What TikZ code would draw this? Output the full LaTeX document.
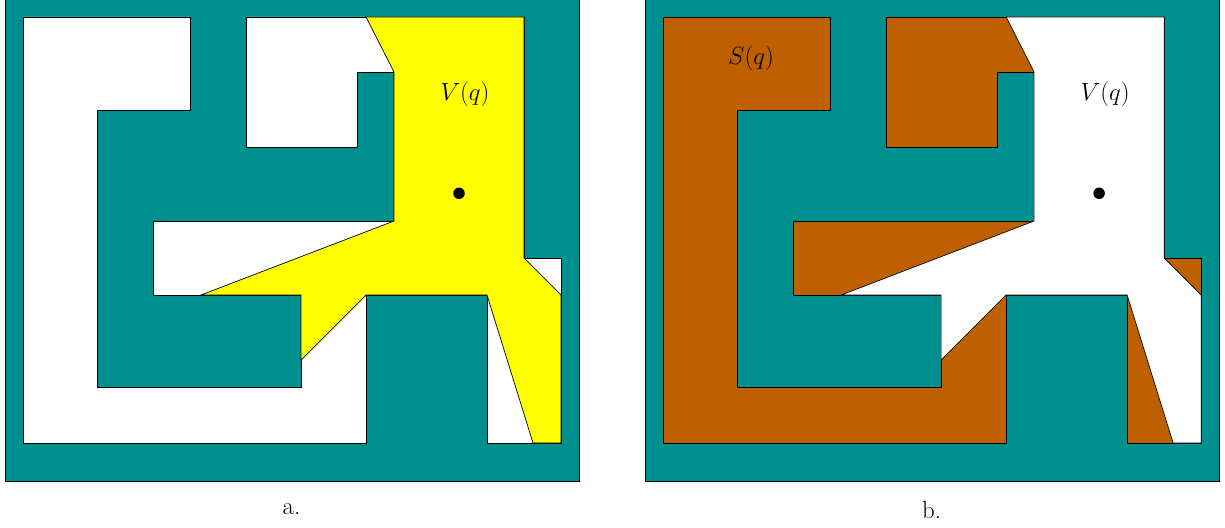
\documentclass[tikz,border=0pt]{standalone}
\definecolor{wallc}{HTML}{008F8F}
\definecolor{shadow}{HTML}{BF6000}
\definecolor{seen}{HTML}{FFFF00}
\tikzset{
  wallfill/.style={fill=wallc,draw=black,line width=0.7pt},
  viewa/.style={fill=seen,draw=black,line width=0.7pt},
  viewb/.style={fill=white,draw=black,line width=0.7pt},
  roomc/.style={draw=black,line width=0.7pt},
  pt/.style={circle,fill=black,inner sep=0pt,minimum size=11.5pt},
  lab/.style={inner sep=0pt,font=\Huge}
}
\newcommand{\panel}[5]{%
 \begin{scope}[xshift=#1]
  \draw[wallfill] (5,-2) rectangle (579,481);
  \draw[roomc,fill=#2] (23,17)--(190,17)--(190,110)--(97,110)--(97,387)--(301,387)--(301,295)--(153,295)--(153,221)--(394,221)--(394,72)--(357,72)--(357,147)--(246,147)--(246,17)--(524,17)--(524,258)--(561,258)--(561,443)--(487,443)--(487,295)--(366,295)--(366,443)--(23,443)--cycle;
  \draw[#3] (366,17)--(524,17)--(524,258)--(561,295)--(561,443)--(533,443)--(487,295)--(366,295)--(301,360)--(301,295)--(201,295)--(394,221)--(394,72)--cycle;
  \node[pt] (q#5) at (459,193.3) {};
  \node[lab] (v#5) at (465,94.5) {$V(q)$};
  \node[lab] (c#5) at (291.5,509.5) {#4};
 \end{scope}}
\begin{document}
\begin{tikzpicture}[x=1pt,y=-1pt]
\useasboundingbox (0,0) rectangle (1225,527);
\begin{scope}
\clip (0,0) rectangle (1225,527);
\panel{0pt}{white}{viewa}{a.}{a}
\panel{640.1pt}{shadow}{viewb}{b.}{b}
\end{scope}
\node[lab] (s) at (751,58.5) {$S(q)$};
\end{tikzpicture}
\end{document}
